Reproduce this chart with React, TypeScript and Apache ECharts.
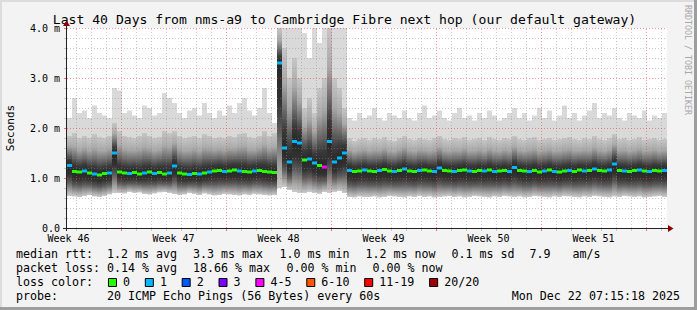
import React, { useEffect, useRef } from 'react';
import * as echarts from 'echarts';

const DAYS = 40;
const Y_MAX = 4;

// median round-trip time per column (ms), 120 columns over 40 days
const medianRtt = [
  1.25, 1.13, 1.12, 1.14, 1.10, 1.08, 1.06, 1.09, 1.10, 1.50,
  1.12, 1.10, 1.09, 1.11, 1.08, 1.10, 1.12, 1.09, 1.11, 1.08,
  1.10, 1.24, 1.10, 1.08, 1.07, 1.09, 1.08, 1.10, 1.12, 1.14,
  1.15, 1.13, 1.14, 1.16, 1.14, 1.13, 1.12, 1.14, 1.15, 1.13,
  1.12, 1.11, 3.30, 1.60, 1.32, 1.73, 1.70, 1.36, 1.38, 1.30,
  1.25, 1.22, 1.73, 1.32, 1.40, 1.50, 1.15, 1.13, 1.14, 1.16,
  1.14, 1.13, 1.15, 1.17, 1.14, 1.13, 1.15, 1.18, 1.14, 1.13,
  1.15, 1.16, 1.14, 1.13, 1.20, 1.15, 1.14, 1.13, 1.15, 1.16,
  1.14, 1.13, 1.15, 1.14, 1.16, 1.13, 1.14, 1.15, 1.13, 1.21,
  1.15, 1.14, 1.13, 1.15, 1.12, 1.14, 1.16, 1.13, 1.12, 1.14,
  1.15, 1.13, 1.16, 1.14, 1.15, 1.18, 1.15, 1.14, 1.16, 1.28,
  1.15, 1.14, 1.13, 1.15, 1.16, 1.14, 1.13, 1.15, 1.14, 1.15,
];

// lost pings (of 20) per column
const lossCount = [
  1, 0, 0, 1, 0, 1, 0, 0, 1, 1,
  0, 0, 1, 0, 0, 1, 0, 1, 0, 0,
  1, 1, 0, 0, 1, 0, 1, 0, 1, 0,
  0, 1, 0, 0, 1, 0, 0, 1, 0, 0,
  0, 0, 1, 1, 1, 1, 1, 0, 1, 1,
  0, 4, 1, 1, 1, 1, 1, 0, 0, 1,
  0, 0, 1, 0, 0, 1, 0, 1, 0, 0,
  1, 0, 0, 1, 1, 0, 0, 1, 0, 0,
  1, 0, 0, 1, 0, 1, 0, 0, 1, 1,
  0, 0, 1, 0, 0, 1, 0, 1, 0, 0,
  1, 0, 0, 1, 0, 1, 0, 0, 1, 1,
  0, 1, 0, 0, 1, 0, 1, 0, 0, 1,
];

// fastest ping per column (ms)
const minRtt = [
  0.64, 0.63, 0.62, 0.64, 0.66, 0.63, 0.62, 0.64, 0.67, 0.70,
  0.70, 0.69, 0.72, 0.70, 0.71, 0.68, 0.67, 0.69, 0.71, 0.72,
  0.70, 0.68, 0.66, 0.67, 0.70, 0.68, 0.66, 0.69, 0.67, 0.65,
  0.66, 0.68, 0.67, 0.66, 0.65, 0.67, 0.66, 0.68, 0.67, 0.66,
  0.65, 0.66, 0.80, 0.82, 0.76, 0.72, 0.70, 0.70, 0.72, 0.70,
  0.68, 0.72, 0.70, 0.72, 0.74, 0.70, 0.62, 0.61, 0.63, 0.62,
  0.62, 0.63, 0.61, 0.62, 0.64, 0.63, 0.62, 0.61, 0.63, 0.62,
  0.64, 0.62, 0.63, 0.61, 0.62, 0.63, 0.64, 0.62, 0.63, 0.61,
  0.62, 0.64, 0.63, 0.62, 0.61, 0.63, 0.62, 0.64, 0.63, 0.62,
  0.63, 0.61, 0.62, 0.64, 0.63, 0.62, 0.61, 0.63, 0.62, 0.64,
  0.63, 0.62, 0.61, 0.63, 0.62, 0.64, 0.63, 0.62, 0.61, 0.63,
  0.62, 0.64, 0.63, 0.62, 0.63, 0.61, 0.62, 0.63, 0.64, 0.62,
];

// second-slowest ping per column (ms): top of the dense smoke
const upperRtt = [
  1.85, 1.90, 1.80, 1.85, 1.80, 1.88, 1.82, 1.80, 1.85, 2.10,
  1.95, 1.85, 1.82, 1.80, 1.85, 1.90, 1.85, 1.80, 1.82, 1.95,
  1.90, 1.95, 1.85, 1.80, 1.82, 1.85, 1.80, 1.88, 1.85, 1.80,
  1.82, 1.80, 1.85, 1.82, 1.88, 1.90, 1.82, 1.80, 1.85, 1.95,
  1.85, 1.90, 4.50, 3.60, 3.00, 3.40, 3.00, 2.40, 2.60, 2.30,
  2.80, 3.00, 4.00, 3.00, 2.80, 2.40, 1.80, 1.75, 1.78, 1.80,
  1.76, 1.80, 1.78, 1.82, 1.76, 1.75, 1.80, 1.85, 1.78, 1.76,
  1.80, 1.78, 1.76, 1.80, 1.85, 1.78, 1.76, 1.80, 1.78, 1.82,
  1.76, 1.78, 1.80, 1.76, 1.82, 1.78, 1.76, 1.80, 1.78, 1.85,
  1.78, 1.76, 1.80, 1.82, 1.76, 1.78, 1.80, 1.76, 1.78, 1.80,
  1.82, 1.78, 1.76, 1.80, 1.78, 1.84, 1.78, 1.76, 1.80, 1.88,
  1.78, 1.80, 1.76, 1.78, 1.82, 1.76, 1.78, 1.80, 1.76, 1.78,
];

// slowest ping per column (ms)
const maxRtt = [
  2.20, 2.60, 2.30, 2.35, 2.20, 2.45, 2.30, 2.25, 2.20, 2.80,
  2.75, 2.30, 2.35, 2.25, 2.20, 2.45, 2.40, 2.25, 2.30, 2.70,
  2.60, 2.50, 2.30, 2.20, 2.35, 2.40, 2.25, 2.50, 2.30, 2.20,
  2.35, 2.25, 2.45, 2.30, 2.50, 2.60, 2.35, 2.25, 2.40, 2.80,
  2.30, 2.10, 4.50, 4.50, 4.50, 4.50, 4.50, 3.90, 3.40, 4.50,
  3.70, 4.50, 4.50, 4.50, 4.50, 4.50, 2.20, 2.15, 2.30, 2.20,
  2.25, 2.40, 2.20, 2.15, 2.30, 2.25, 2.20, 2.35, 2.20, 2.15,
  2.30, 2.45, 2.20, 2.25, 2.35, 2.20, 2.15, 2.30, 2.40, 2.20,
  2.25, 2.15, 2.30, 2.20, 2.35, 2.25, 2.15, 2.20, 2.30, 2.40,
  2.20, 2.30, 2.15, 2.25, 2.40, 2.20, 2.35, 2.15, 2.25, 2.45,
  2.20, 2.30, 2.15, 2.25, 2.35, 2.50, 2.20, 2.30, 2.25, 2.40,
  2.20, 2.15, 2.30, 2.25, 2.20, 2.35, 2.15, 2.25, 2.20, 2.30,
];

const weekLabels = ['Week 46', 'Week 47', 'Week 48', 'Week 49', 'Week 50', 'Week 51'];
const lossLegendLabels = ['0', '1', '2', '3', '4-5', '6-10', '11-19', '20/20'];
const lossColors = ['#26ff00', '#00b8ff', '#0059ff', '#7e00ff', '#ff00ff', '#ff5500', '#ff0000', '#a10000'];

const titleText = 'Last 40 Days from nms-a9 to Cambridge Fibre next hop (our default gateway)';
const rttStats = [
  ['median rtt:', 16], ['1.2 ms avg', 107], ['3.3 ms max', 193], ['1.0 ms min', 279.5],
  ['1.2 ms now', 365.5], ['0.1 ms sd', 451.5], ['7.9', 529.5], ['am/s', 572.5],
];
const lossStats = [
  ['packet loss:', 16], ['0.14 % avg', 107], ['18.66 % max', 193], ['0.00 % min', 286.5], ['0.00 % now', 372.5],
];
const probeText = '20 ICMP Echo Pings (56 Bytes) every 60s';
const dateText = 'Mon Dec 22 07:15:18 2025';

// grid geometry (days from graph start)
const FIRST_DAY_LINE = 0.6;
const FIRST_WEEK_LINE = 3.6;

const MONO = '"DejaVu Sans Mono", monospace';

function lossBucket(n: number) {
  if (n <= 3) return n;
  if (n <= 5) return 4;
  if (n <= 10) return 5;
  if (n <= 19) return 6;
  return 7;
}

function buildOption() {
  const n = medianRtt.length;
  const colDays = DAYS / n;
  const smokeData = medianRtt.map((m, i) => [i, minRtt[i], m, upperRtt[i], maxRtt[i]]);
  const medianData = medianRtt.map((m, i) => [i, m, lossCount[i]]);
  const cap = (v: number) => Math.min(v, Y_MAX);

  const dayLines: number[] = [];
  const weekLines: number[] = [];
  for (let k = 0; FIRST_DAY_LINE + k < DAYS; k++) {
    const d = FIRST_DAY_LINE + k;
    if ((k - (FIRST_WEEK_LINE - FIRST_DAY_LINE)) % 7 === 0) weekLines.push(d);
    else dayLines.push(d);
  }
  const labelValues = weekLabels.map((_, k) => FIRST_WEEK_LINE - 3.5 + k * 7);
  const minorH: number[] = [];
  const majorH: number[] = [];
  for (let k = 1; k <= 20; k++) {
    if (k % 5 === 0) majorH.push(k / 5);
    else minorH.push(k / 5);
  }

  const smokeRender = (params: any, api: any) => {
    const i = api.value(0);
    const lo = cap(api.value(1));
    const med = cap(api.value(2));
    const up = cap(api.value(3));
    const hi = cap(api.value(4));
    const p0 = api.coord([i * colDays, lo]);
    const p1 = api.coord([(i + 1) * colDays, lo]);
    const x0 = p0[0];
    const w = p1[0] - x0;
    const yLo = p0[1];
    const yMed = api.coord([0, med])[1];
    const yUp = api.coord([0, up])[1];
    const yHi = api.coord([0, hi])[1];
    return {
      type: 'group',
      children: [
        { type: 'rect', shape: { x: x0, y: yHi, width: w, height: Math.max(0, yUp - yHi) }, style: { fill: '#d9d9d9' } },
        {
          type: 'rect', shape: { x: x0, y: yUp, width: w, height: Math.max(0, yMed - yUp) },
          style: {
            fill: new echarts.graphic.LinearGradient(0, 0, 0, 1, [
              { offset: 0, color: '#c6c6c6' }, { offset: 0.35, color: '#a9a9a9' },
              { offset: 0.62, color: '#6c6c6c' }, { offset: 0.82, color: '#3a3a3a' }, { offset: 1, color: '#262626' },
            ]),
          },
        },
        {
          type: 'rect', shape: { x: x0, y: yMed, width: w, height: Math.max(0, yLo - yMed) },
          style: {
            fill: new echarts.graphic.LinearGradient(0, 0, 0, 1, [
              { offset: 0, color: '#262626' }, { offset: 0.3, color: '#323232' },
              { offset: 0.55, color: '#5c5c5c' }, { offset: 0.8, color: '#9c9c9c' }, { offset: 1, color: '#cbcbcb' },
            ]),
          },
        },
      ],
    };
  };

  const medianRender = (params: any, api: any) => {
    const i = api.value(0);
    const med = cap(api.value(1));
    const p0 = api.coord([i * colDays, med]);
    const p1 = api.coord([(i + 1) * colDays, med]);
    return {
      type: 'rect',
      shape: { x: p0[0], y: p0[1] - 1.5, width: p1[0] - p0[0], height: 3 },
      style: { fill: lossColors[lossBucket(api.value(2))] },
    };
  };

  const gridLineSeries = (name: string, xs: number[], ys: number[], color: string, z: number) => ({
    type: 'line', name, data: [], z, silent: true,
    markLine: {
      silent: true, symbol: ['none', 'none'], label: { show: false }, animation: false,
      lineStyle: { color, width: 1, type: [1, 2] },
      data: [...xs.map((v) => ({ xAxis: v })), ...ys.map((v) => ({ yAxis: v }))],
    },
  });

  const graphic: any[] = [];
  // frame
  graphic.push({ type: 'rect', shape: { x: 0, y: 0, width: 697, height: 2 }, style: { fill: '#dcdcdc' }, silent: true });
  graphic.push({ type: 'rect', shape: { x: 0, y: 0, width: 2, height: 310 }, style: { fill: '#dcdcdc' }, silent: true });
  graphic.push({ type: 'rect', shape: { x: 0, y: 307, width: 697, height: 3 }, style: { fill: '#9d9d9d' }, silent: true });
  graphic.push({ type: 'rect', shape: { x: 694, y: 0, width: 3, height: 310 }, style: { fill: '#9d9d9d' }, silent: true });
  // title
  graphic.push({ type: 'text', style: { text: titleText, x: 344.5, y: 19, font: `13.1px ${MONO}`, fill: '#000', textAlign: 'center', textVerticalAlign: 'middle', align: 'center', verticalAlign: 'middle' } });
  // y axis title
  graphic.push({ type: 'text', x: 10, y: 128, rotation: Math.PI / 2, style: { text: 'Seconds', x: 0, y: 0, font: `11px ${MONO}`, fill: '#000', textAlign: 'center', textVerticalAlign: 'middle', align: 'center', verticalAlign: 'middle' } });
  // watermark
  graphic.push({ type: 'text', x: 688, y: 60, rotation: -Math.PI / 2, style: { text: 'RRDTOOL / TOBI OETIKER', x: 0, y: 0, font: `8.3px ${MONO}`, fill: '#a8a8a8', textAlign: 'center', textVerticalAlign: 'middle', align: 'center', verticalAlign: 'middle' } });
  // axes lines and arrows
  graphic.push({ type: 'line', shape: { x1: 66.5, y1: 231, x2: 66.5, y2: 24 }, style: { stroke: '#222', lineWidth: 1 }, z: 100 });
  graphic.push({ type: 'line', shape: { x1: 63, y1: 228.5, x2: 669, y2: 228.5 }, style: { stroke: '#222', lineWidth: 1 }, z: 100 });
  graphic.push({ type: 'polygon', shape: { points: [[66.5, 20.5], [63, 26], [70, 26]] }, style: { fill: '#8b0000' }, z: 101 });
  graphic.push({ type: 'polygon', shape: { points: [[673.5, 228.5], [668, 225], [668, 232]] }, style: { fill: '#8b0000' }, z: 101 });

  const textStyle = (text: string, x: number, y: number, align = 'left') => ({
    type: 'text',
    style: { text, x, y, font: `11.65px ${MONO}`, fill: '#000', textAlign: align, textVerticalAlign: 'middle', align, verticalAlign: 'middle' },
  });
  rttStats.forEach(([t, x]) => graphic.push(textStyle(t as string, x as number, 254)));
  lossStats.forEach(([t, x]) => graphic.push(textStyle(t as string, x as number, 268)));
  graphic.push(textStyle('loss color:', 16, 282));
  const cw = 7.02;
  let pos = 13.1;
  lossLegendLabels.forEach((lbl, k) => {
    const sx = 16 + pos * cw;
    graphic.push({ type: 'rect', shape: { x: sx + 0.5, y: 278.5, width: 8, height: 8 }, style: { fill: lossColors[k], stroke: '#000', lineWidth: 1 } });
    const tpos = pos + 2.15;
    graphic.push(textStyle(lbl, 16 + tpos * cw, 282));
    pos = tpos + lbl.length + 2.1;
  });
  graphic.push(textStyle('probe:', 16, 296));
  graphic.push(textStyle(probeText, 107, 296));
  graphic.push(textStyle(dateText, 680, 296, 'right'));

  return {
    animation: false,
    backgroundColor: 'transparent',
    grid: { left: 67, top: 28, width: 600, height: 200, show: true, backgroundColor: '#ffffff', borderWidth: 0 },
    xAxis: [
      {
        type: 'value', min: 0, max: DAYS,
        axisLine: { show: false }, splitLine: { show: false },
        axisTick: { show: true, customValues: dayLines, length: 3, lineStyle: { color: '#c8c8c8' } },
        axisLabel: {
          show: true, customValues: labelValues, margin: 5, fontSize: 10, fontFamily: MONO, color: '#000',
          formatter: (v: number) => weekLabels[Math.round((v - labelValues[0]) / 7)] ?? '',
        },
      },
      {
        type: 'value', min: 0, max: DAYS, position: 'bottom',
        axisLine: { show: false }, splitLine: { show: false }, axisLabel: { show: false },
        axisTick: { show: true, customValues: weekLines, length: 3, lineStyle: { color: 'rgba(255,0,0,0.55)' } },
      },
    ],
    yAxis: {
      type: 'value', min: 0, max: Y_MAX, interval: 1,
      axisLine: { show: false }, splitLine: { show: false },
      axisTick: { show: true, length: 3, lineStyle: { color: 'rgba(255,0,0,0.55)' } },
      minorTick: { show: true, splitNumber: 5, length: 3, lineStyle: { color: '#c8c8c8' } },
      axisLabel: {
        margin: 7, fontSize: 10, fontFamily: MONO, color: '#000',
        formatter: (v: number) => (v === 0 ? '0.0' : `${v.toFixed(1)} m`),
      },
    },
    series: [
      { type: 'custom', name: 'smoke', renderItem: smokeRender, data: smokeData, clip: true, z: 2, silent: true },
      gridLineSeries('minorGrid', dayLines, minorH, 'rgba(140,140,140,0.45)', 3),
      gridLineSeries('majorGrid', weekLines, majorH, 'rgba(240,60,60,0.55)', 4),
      { type: 'custom', name: 'median', renderItem: medianRender, data: medianData, clip: true, z: 5, silent: true },
    ],
    graphic,
  };
}

export default function App() {
  const ref = useRef<HTMLDivElement>(null);
  useEffect(() => {
    const chart = echarts.init(ref.current!, null, { renderer: 'svg' });
    chart.setOption(buildOption() as any);
    return () => chart.dispose();
  }, []);
  return (
    <div style={{ position: 'fixed', left: 0, top: 0, width: 697, height: 310, background: '#f3f3f3' }}>
      <div ref={ref} style={{ width: 697, height: 310 }} />
    </div>
  );
}
